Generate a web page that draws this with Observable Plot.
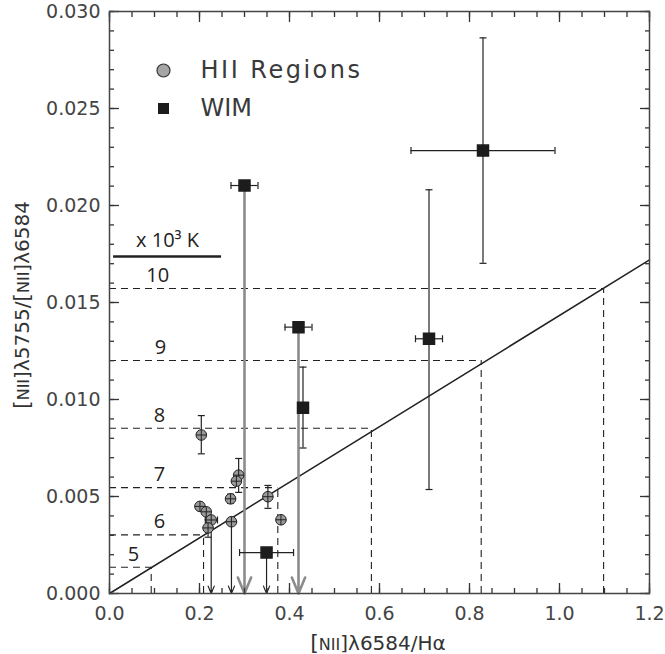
<!DOCTYPE html>
<html><head><meta charset="utf-8">
<script src="https://cdn.jsdelivr.net/npm/d3@7"></script>
<script src="https://cdn.jsdelivr.net/npm/@observablehq/plot@0.6"></script>
<style>html,body{margin:0;background:#fff;overflow:hidden}#chart svg{display:block}</style>
</head><body><div id="chart"></div>
<script>
// ---- data ----
const xMajor = [0, 0.2, 0.4, 0.6, 0.8, 1.0, 1.2];
const yMajor = [0, 0.005, 0.010, 0.015, 0.020, 0.025, 0.030];
const xMinor = d3.range(0, 1.2001, 0.05);
const yMinor = d3.range(0, 0.03001, 0.001);

// HII regions
const hiiX  = [0.204, 0.287, 0.282, 0.269, 0.352, 0.201, 0.215, 0.226, 0.219, 0.271, 0.381];
const hiiY  = [0.00817, 0.00610, 0.00579, 0.00488, 0.00499, 0.00449, 0.00421, 0.00379, 0.00338, 0.00370, 0.00380];
const hiiYlo = [0.00720, 0.00521, null, 0.00465, 0.00439, null, null, null, 0.00290, null, null];
const hiiYhi = [0.00917, 0.00696, null, 0.00512, 0.00557, null, null, null, 0.00380, null, null];
const hiiXlo = [null, null, null, null, null, null, null, 0.213, null, null, null];
const hiiXhi = [null, null, null, null, null, null, null, 0.240, null, null, null];
const hiiLimit = [false, false, false, false, false, false, false, true, false, true, false];

// WIM
const wimX   = [0.830, 0.710, 0.300, 0.420, 0.430, 0.349];
const wimY   = [0.02283, 0.01313, 0.02103, 0.01373, 0.00958, 0.00211];
const wimXlo = [0.670, 0.680, 0.270, 0.390, null, 0.289];
const wimXhi = [0.990, 0.740, 0.330, 0.450, null, 0.409];
const wimYlo = [0.01702, 0.00536, null, null, 0.00750, null];
const wimYhi = [0.02864, 0.02081, null, null, 0.01167, null];
const wimLimit = ["none", "none", "grey", "grey", "none", "black"];

// temperature grid (x 10^3 K)
const tempK      = [5, 6, 7, 8, 9, 10];
const tempRatio  = [0.00135, 0.00302, 0.00546, 0.00852, 0.01201, 0.01572];
const tempLineX  = [0.0927, 0.209, 0.374, 0.582, 0.826, 1.098];
const tempLabelX = [0.053, 0.111, 0.111, 0.111, 0.113, 0.107];

// model line
const modelX = [0, 1.2];
const modelY = [0, 0.0172];

// key underline
const keyLine = [{x1: 0.009, x2: 0.249, y: 0.01737}];

// ---- tables ----
const hii = hiiX.map((x, i) => ({x, y: hiiY[i], ylo: hiiYlo[i], yhi: hiiYhi[i], xlo: hiiXlo[i], xhi: hiiXhi[i], lim: hiiLimit[i]}));
const wim = wimX.map((x, i) => ({x, y: wimY[i], xlo: wimXlo[i], xhi: wimXhi[i], ylo: wimYlo[i], yhi: wimYhi[i], lim: wimLimit[i]}));
const temps = tempK.map((t, i) => ({t, r: tempRatio[i], x: tempLineX[i], lx: tempLabelX[i]}));
const model = modelX.map((x, i) => ({x, y: modelY[i]}));

// ---- shapes ----
const hCap = {draw(c) { c.moveTo(-3.5, 0); c.lineTo(3.5, 0); }};
const vCap = {draw(c) { c.moveTo(0, -3.5); c.lineTo(0, 3.5); }};
const hiiSym = {draw(c, size) {
  const r = Math.sqrt(size / Math.PI);
  c.moveTo(r, 0); c.arc(0, 0, r, 0, 2 * Math.PI);
  c.moveTo(-r, 0); c.lineTo(r, 0); c.moveTo(0, -r); c.lineTo(0, r);
}};

const ink = "#222";
const grey = "#8c8c8c";
const tickFont = "DejaVu Sans";
const annFont = "Open Sans";
const tickInk = {stroke: "#333", strokeWidth: 1.3};

// inward tick marks built from Plot's own axis marks, shifted inside the frame
const inTicks = (anchor, ticks, size) => {
  const shift = anchor === "bottom" ? {dy: -size} : anchor === "top" ? {dy: size}
              : anchor === "left" ? {dx: size} : {dx: -size};
  return (anchor === "bottom" || anchor === "top" ? Plot.axisX : Plot.axisY)(ticks,
    {anchor, tickSize: size, ...shift, ...tickInk, fill: "none", tickFormat: () => "", label: null});
};

const hiiYe = hii.filter(d => d.ylo != null);
const hiiXe = hii.filter(d => d.xlo != null);
const wimYe = wim.filter(d => d.ylo != null);
const wimXe = wim.filter(d => d.xlo != null);

const chart = Plot.plot({
  width: 665, height: 654,
  marginLeft: 109, marginRight: 16, marginTop: 11, marginBottom: 61,
  style: {fontFamily: tickFont, background: "#fff"},
  x: {domain: [0, 1.2]},
  y: {domain: [0, 0.03]},
  marks: [
    // temperature dashed grid
    Plot.ruleY(temps, {y: "r", x1: 0, x2: "x", stroke: ink, strokeWidth: 1.1, strokeDasharray: "7,5"}),
    Plot.ruleX(temps, {x: "x", y1: 0, y2: "r", stroke: ink, strokeWidth: 1.1, strokeDasharray: "7,5"}),
    Plot.text(temps, {x: "lx", y: "r", text: d => String(d.t), dy: -13, fontSize: 20, fontFamily: annFont, fill: ink}),
    // key
    Plot.ruleY(keyLine, {y: "y", x1: "x1", x2: "x2", stroke: ink, strokeWidth: 2.5}),
    Plot.text(["x 10³ K"], {frameAnchor: "top-left", dx: 58, dy: 229, textAnchor: "middle", lineAnchor: "middle", fontSize: 20, fontFamily: annFont, fill: ink}),
    // model line
    Plot.line(model, {x: "x", y: "y", stroke: ink, strokeWidth: 1.5}),
    // limit lines
    Plot.arrow(wim.filter(d => d.lim === "grey"), {x1: "x", y1: "y", x2: "x", y2: 0, stroke: grey, strokeWidth: 2.6, headLength: 10, headAngle: 45}),
    Plot.arrow(wim.filter(d => d.lim === "black"), {x1: "x", y1: "y", x2: "x", y2: 0, stroke: ink, strokeWidth: 1.2, headLength: 10, headAngle: 45}),
    Plot.arrow(hii.filter(d => d.lim), {x1: "x", y1: "y", x2: "x", y2: 0, stroke: ink, strokeWidth: 1.2, headLength: 10, headAngle: 45}),
    // HII error bars
    Plot.ruleX(hiiYe, {x: "x", y1: "ylo", y2: "yhi", stroke: ink, strokeWidth: 1.2}),
    Plot.dot(hiiYe, {x: "x", y: "ylo", symbol: hCap, stroke: ink, strokeWidth: 1.2}),
    Plot.dot(hiiYe, {x: "x", y: "yhi", symbol: hCap, stroke: ink, strokeWidth: 1.2}),
    Plot.ruleY(hiiXe, {y: "y", x1: "xlo", x2: "xhi", stroke: ink, strokeWidth: 1.2}),
    Plot.dot(hiiXe, {x: "xlo", y: "y", symbol: vCap, stroke: ink, strokeWidth: 1.2}),
    Plot.dot(hiiXe, {x: "xhi", y: "y", symbol: vCap, stroke: ink, strokeWidth: 1.2}),
    // WIM error bars
    Plot.ruleX(wimYe, {x: "x", y1: "ylo", y2: "yhi", stroke: ink, strokeWidth: 1.2}),
    Plot.dot(wimYe, {x: "x", y: "ylo", symbol: hCap, stroke: ink, strokeWidth: 1.2}),
    Plot.dot(wimYe, {x: "x", y: "yhi", symbol: hCap, stroke: ink, strokeWidth: 1.2}),
    Plot.ruleY(wimXe, {y: "y", x1: "xlo", x2: "xhi", stroke: ink, strokeWidth: 1.2}),
    Plot.dot(wimXe, {x: "xlo", y: "y", symbol: vCap, stroke: ink, strokeWidth: 1.2}),
    Plot.dot(wimXe, {x: "xhi", y: "y", symbol: vCap, stroke: ink, strokeWidth: 1.2}),
    // points
    Plot.dot(hii, {x: "x", y: "y", symbol: hiiSym, r: 5.3, fill: "#9a9a9a", stroke: ink, strokeWidth: 1}),
    Plot.dot(wim, {x: "x", y: "y", symbol: "square", r: 6.2, fill: "#1c1c1c", stroke: "#1c1c1c"}),
    // legend
    Plot.dot(["HII Regions"], {frameAnchor: "top-left", dx: 54, dy: 59, r: 6.5, fill: "#a5a5a5", stroke: "#333", strokeWidth: 1.2}),
    Plot.dot(["WIM"], {frameAnchor: "top-left", dx: 54, dy: 97, symbol: "square", r: 6.2, fill: "#1c1c1c"}),
    Plot.text(["HII Regions"], {frameAnchor: "top-left", dx: 91, dy: 59, textAnchor: "start", lineAnchor: "middle", fontSize: 24, fill: "#3a3a3a", text: d => d}),
    Plot.text(["WIM"], {frameAnchor: "top-left", dx: 91, dy: 97, textAnchor: "start", lineAnchor: "middle", fontSize: 24, fill: "#3a3a3a", text: d => d}),
    // inward ticks on all four sides
    inTicks("bottom", xMajor, 10), inTicks("bottom", xMinor, 5),
    inTicks("top", xMajor, 10), inTicks("top", xMinor, 5),
    inTicks("left", yMajor, 10), inTicks("left", yMinor, 5),
    inTicks("right", yMajor, 10), inTicks("right", yMinor, 5),
    // tick labels
    Plot.axisX(xMajor, {tickSize: 0, tickPadding: 13, tickFormat: d => d.toFixed(1), fontSize: 19, fill: "#444", label: null}),
    Plot.axisY(yMajor, {tickSize: 0, tickPadding: 9, tickFormat: d => d.toFixed(3), fontSize: 19, fill: "#444", label: null}),
    Plot.frame({stroke: "#444", strokeWidth: 1.5})
  ]
});
document.getElementById("chart").appendChild(chart);

const svg = d3.select(chart);
// widen the legend lettering like the reference
svg.selectAll("text").filter(function() { return this.textContent === "HII Regions"; }).attr("letter-spacing", 2.5);

// axis titles with small-size NII
function title(sel, parts) {
  parts.forEach(([t, s]) => sel.append("tspan").attr("font-size", s).text(t));
}
const xt = svg.append("text").attr("x", 378).attr("y", 650).attr("text-anchor", "middle")
  .attr("font-family", tickFont).attr("fill", "#333");
title(xt, [["[", 22], ["NII", 16], ["]λ6584/Hα", 20]]);
const yt = svg.append("text").attr("transform", "translate(29,305) rotate(-90)").attr("text-anchor", "middle")
  .attr("font-family", tickFont).attr("fill", "#333");
title(yt, [["[", 22], ["NII", 16], ["]λ5755/", 20], ["[", 22], ["NII", 16], ["]λ6584", 20]]);
</script></body></html>
